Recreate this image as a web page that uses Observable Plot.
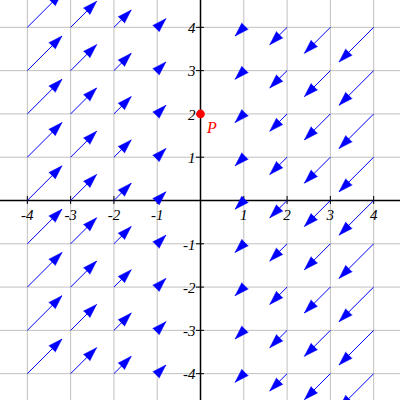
<!DOCTYPE html>
<html>
<head>
<meta charset="utf-8">
<script src="https://cdn.jsdelivr.net/npm/d3@7"></script>
<script src="https://cdn.jsdelivr.net/npm/@observablehq/plot@0.6"></script>
<style>
  html, body { margin: 0; padding: 0; background: #fff; }
  #chart svg { display: block; }
</style>
</head>
<body>
<div id="chart"></div>
<script>
// Columns (x) where arrows start, and the arrow component read for each column
const columnsX = [-4, -3, -2, -1, 1, 2, 3, 4];
const arrowU   = [0.8, 0.6, 0.4, 0.2, -0.2, -0.4, -0.6, -0.8];
const arrowV   = [0.8, 0.6, 0.4, 0.2, -0.2, -0.4, -0.6, -0.8];
// Rows (y) where arrows start
const rowsY = [-4, -3, -2, -1, 0, 1, 2, 3, 4];
// Grid and tick values
const gridValues = [-4, -3, -2, -1, 0, 1, 2, 3, 4];
const tickValues = [-4, -3, -2, -1, 1, 2, 3, 4];
const tickLabels = ["-4", "-3", "-2", "-1", "1", "2", "3", "4"];
// Labelled point
const pointP = [{x: 0, y: 2, label: "P"}];

const arrows = [];
columnsX.forEach((x, i) => {
  rowsY.forEach(y => {
    const u = arrowU[i], v = arrowV[i];
    arrows.push({x, y, x2: x + u, y2: y + v,
      angle: Math.atan2(u, v) * 180 / Math.PI});
  });
});
const ticks = tickValues.map((v, i) => ({v, label: tickLabels[i]}));

const serif = "Liberation Serif, Times New Roman, serif";

const chart = Plot.plot({
  width: 400,
  height: 400,
  margin: 0,
  x: {domain: [-4.62, 4.62], axis: null},
  y: {domain: [-4.62, 4.62], axis: null},
  style: {background: "#fff"},
  marks: [
    Plot.ruleX(gridValues, {x: d => d, stroke: "#c0c0c0", strokeWidth: 1}),
    Plot.ruleY(gridValues, {y: d => d, stroke: "#c0c0c0", strokeWidth: 1}),
    Plot.ruleX([0], {x: d => d, stroke: "black", strokeWidth: 1.5}),
    Plot.ruleY([0], {y: d => d, stroke: "black", strokeWidth: 1.5}),
    // tick marks crossing the axes
    Plot.ruleX(ticks, {x: "v", y1: 0, y2: 0, insetTop: -4, insetBottom: -4, stroke: "black", strokeWidth: 1}),
    Plot.ruleY(ticks, {y: "v", x1: 0, x2: 0, insetLeft: -4, insetRight: -4, stroke: "black", strokeWidth: 1}),
    // tick labels
    Plot.text(ticks, {x: "v", y: 0, text: "label", dy: 15, lineAnchor: "middle", textAnchor: "middle",
      fontFamily: serif, fontStyle: "italic", fontSize: 15, fill: "black"}),
    Plot.text(ticks, {x: 0, y: "v", text: "label", dx: -5, dy: 1, lineAnchor: "middle", textAnchor: "end",
      fontFamily: serif, fontStyle: "italic", fontSize: 15, fill: "black"}),
    // arrow shafts
    Plot.link(arrows, {x1: "x", y1: "y", x2: "x2", y2: "y2", stroke: "#0000ff", strokeWidth: 1}),
    // arrow heads
    Plot.vector(arrows, {x: "x2", y: "y2", rotate: "angle", length: 14, r: 4.5, shape: "spike",
      anchor: "end", fill: "#0000ff", fillOpacity: 1, stroke: "#0000ff", strokeWidth: 0.5}),
    // point P
    Plot.dot(pointP, {x: "x", y: "y", r: 4.3, fill: "#ff0000", stroke: "none"}),
    Plot.text(pointP, {x: "x", y: "y", text: "label", dx: 11.5, dy: 14, lineAnchor: "middle", textAnchor: "middle",
      fontFamily: serif, fontStyle: "italic", fontSize: 16, fill: "#ff0000"})
  ]
});
document.getElementById("chart").appendChild(chart);
</script>
</body>
</html>
